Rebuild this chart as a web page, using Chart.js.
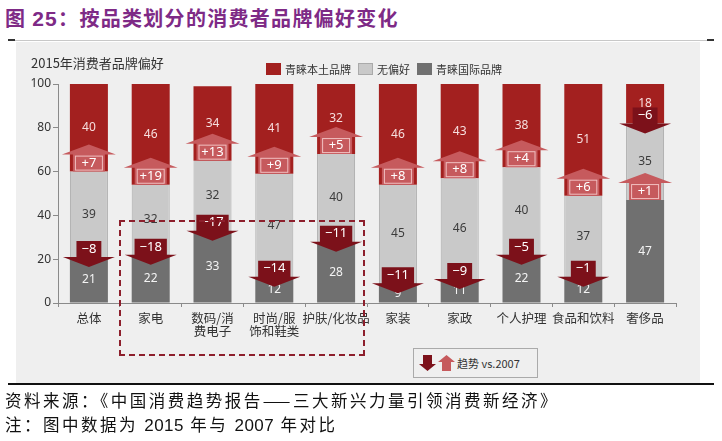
<!DOCTYPE html>
<html>
<head>
<meta charset="utf-8">
<script src="https://cdn.jsdelivr.net/npm/chart.js@4.4.0/dist/chart.umd.min.js"></script>
<style>
  body { margin: 0; background: #fff; }
  #page { position: relative; width: 722px; height: 441px; overflow: hidden; font-family: "Noto Sans CJK SC", sans-serif; }
  #panel { position: absolute; left: 16px; top: 42px; width: 684px; height: 341px; background: #efefef; }
  #myChart { position: absolute; left: 0; top: 0; }
  .abs { position: absolute; white-space: nowrap; }
  #titulo { left: 5px; top: 5px; font-size: 20px; line-height: 26px; font-weight: bold; color: #7e2a86; letter-spacing: 1.3px; }
  #titulo .num { font-family: "Liberation Sans", sans-serif; font-size: 21px; }
  #lineaTop { left: 8px; top: 40px; width: 706px; height: 1px; background: #c8c8c8; }
  .cap { top: 39px; width: 7px; height: 2px; background: #333; }
  #lineaBottom { left: 8px; top: 383px; width: 706px; height: 2px; background: #111; }
  #subtitulo { left: 31px; top: 54px; font-size: 13px; line-height: 18px; color: #333; }
  #leyenda { left: 266px; top: 62px; font-size: 11px; line-height: 14px; color: #333; display: flex; align-items: center; }
  #leyenda .sq { width: 15px; height: 12px; margin-right: 4px; }
  #leyenda .item { display: flex; align-items: center; margin-right: 7px; }
  #cajaDash { left: 119px; top: 220px; width: 246px; height: 136px; border: 2px dashed #8d1f2c; box-sizing: border-box; }
  #tendencia { left: 413px; top: 348px; width: 125px; height: 30px; border: 1px solid #aaa; box-sizing: border-box; display: flex; align-items: center; padding-left: 5px; font-size: 11px; color: #333; background: #efefef; }
  #tendencia svg { margin-right: 2px; }
  #fuente { left: 5px; top: 389px; font-size: 16.5px; line-height: 22px; color: #111; letter-spacing: 2.5px; }
  #nota { left: 5px; top: 413px; font-size: 16.5px; line-height: 22px; color: #111; letter-spacing: 2.5px; }
  #nota .num { font-family: "Liberation Sans", sans-serif; font-size: 17px; letter-spacing: 0.5px; }
</style>
</head>
<body>
<div id="page">
  <div class="abs" id="titulo">图 <span class="num">25</span>：按品类划分的消费者品牌偏好变化</div>
  <div class="abs" id="lineaTop"></div>
  <div class="abs cap" style="left:8px"></div>
  <div class="abs cap" style="left:707px"></div>
  <div id="panel"></div>
  <canvas id="myChart" width="722" height="441"></canvas>
  <div class="abs" id="subtitulo">2015年消费者品牌偏好</div>
  <div class="abs" id="leyenda">
    <div class="item"><div class="sq" style="background:#a3201f"></div>青睐本土品牌</div>
    <div class="item"><div class="sq" style="background:#c9c9c9;border:1px solid #aaa;box-sizing:border-box"></div>无偏好</div>
    <div class="item"><div class="sq" style="background:#707070"></div>青睐国际品牌</div>
  </div>
  <div class="abs" id="cajaDash"></div>
  <div class="abs" id="tendencia">
    <svg width="17" height="18" viewBox="0 0 17 18"><path d="M4 1 H13 V10 H17 L8.5 17 L0 10 H4 Z" fill="#7c111a"/></svg>
    <svg width="17" height="18" viewBox="0 0 17 18"><path d="M4 17 H13 V8 H17 L8.5 1 L0 8 H4 Z" fill="#c65a5d"/></svg>
    <span>趋势 vs.2007</span>
  </div>
  <div class="abs" id="lineaBottom"></div>
  <div class="abs" id="fuente">资料来源：《中国消费趋势报告——三大新兴力量引领消费新经济》</div>
  <div class="abs" id="nota">注：图中数据为 <span class="num">2015</span> 年与 <span class="num">2007</span> 年对比</div>
</div>

<script>
// Categorías (etiquetas de dos líneas donde hace falta)
const categorias = [['总体'], ['家电'], ['数码/消', '费电子'], ['时尚/服', '饰和鞋类'], ['护肤/化妆品'],
  ['家装'], ['家政'], ['个人护理'], ['食品和饮料'], ['奢侈品']];

// Preferencias 2015 (%)
const prefInternacional = [21, 22, 33, 12, 28, 9, 11, 22, 12, 47];
const sinPreferencia = [39, 32, 32, 47, 40, 45, 46, 40, 37, 35];
const prefLocal = [40, 46, 34, 41, 32, 46, 43, 38, 51, 18];

// Tendencia vs. 2007 (puntos)
const cambioLocal = [7, 19, 13, 9, 5, 8, 8, 4, 6, -6];
const cambioInternacional = [-8, -18, -17, -14, -11, -11, -9, -5, -1, 1];

const ticksY = [0, 20, 40, 60, 80, 100];

// Dibuja una flecha de tendencia sobre el límite entre segmentos
function dibujarFlecha(ctx, cx, by, v) {
  ctx.textAlign = 'center';
  ctx.textBaseline = 'middle';
  ctx.font = '13px "Noto Sans"';
  if (v > 0) {
    const w = 32, h = 17, hh = 10, hw = 27;
    ctx.fillStyle = '#c65a5d';
    ctx.beginPath();
    ctx.moveTo(cx - w / 2, by);
    ctx.lineTo(cx - w / 2, by - h);
    ctx.lineTo(cx - hw, by - h);
    ctx.lineTo(cx, by - h - hh);
    ctx.lineTo(cx + hw, by - h);
    ctx.lineTo(cx + w / 2, by - h);
    ctx.lineTo(cx + w / 2, by);
    ctx.closePath();
    ctx.fill();
    ctx.strokeStyle = 'rgba(255,225,225,0.75)';
    ctx.lineWidth = 1;
    ctx.strokeRect(cx - w / 2 + 2.5, by - h + 1.5, w - 5, h - 3);
    ctx.fillStyle = '#fff';
    ctx.fillText('+' + v, cx, by - h / 2);
  } else {
    const txt = '−' + Math.abs(v);
    const bw = Math.max(24, ctx.measureText(txt).width + 10);
    const h = 16, hw = 26, hh = 10;
    ctx.fillStyle = '#7c111a';
    ctx.beginPath();
    ctx.moveTo(cx - bw / 2, by - h);
    ctx.lineTo(cx + bw / 2, by - h);
    ctx.lineTo(cx + bw / 2, by);
    ctx.lineTo(cx + hw, by);
    ctx.lineTo(cx, by + hh);
    ctx.lineTo(cx - hw, by);
    ctx.lineTo(cx - bw / 2, by);
    ctx.closePath();
    ctx.fill();
    ctx.fillStyle = '#fff';
    ctx.fillText(txt, cx, by - h / 2);
  }
}

const pluginTendencias = {
  id: 'tendencias',
  afterDatasetsDraw(chart) {
    const { ctx, scales: { x, y } } = chart;
    ctx.save();
    // Valores dentro de cada segmento
    const series = [prefInternacional, sinPreferencia, prefLocal];
    const colores = ['#f4f4f4', '#3c3c3c', '#f6dede'];
    ctx.font = '12px "Noto Sans"';
    ctx.textAlign = 'center';
    ctx.textBaseline = 'middle';
    categorias.forEach((c, i) => {
      let base = 0;
      series.forEach((s, k) => {
        ctx.fillStyle = colores[k];
        ctx.fillText(String(s[i]), x.getPixelForValue(i), y.getPixelForValue(base + s[i] / 2));
        base += s[i];
      });
    });
    // Flechas
    categorias.forEach((c, i) => {
      const cx = x.getPixelForValue(i);
      dibujarFlecha(ctx, cx, y.getPixelForValue(prefInternacional[i] + sinPreferencia[i]), cambioLocal[i]);
      dibujarFlecha(ctx, cx, y.getPixelForValue(prefInternacional[i]), cambioInternacional[i]);
    });
    ctx.restore();
  }
};

const ctx = document.getElementById('myChart');
new Chart(ctx, {
  type: 'bar',
  data: {
    labels: categorias,
    datasets: [
      { label: '青睐国际品牌', data: prefInternacional, backgroundColor: '#707070', borderWidth: 0 },
      { label: '无偏好', data: sinPreferencia, backgroundColor: '#c9c9c9', borderColor: '#a9a9a9', borderWidth: { left: 1, right: 1 } },
      { label: '青睐本土品牌', data: prefLocal, backgroundColor: '#a3201f', borderWidth: 0 }
    ]
  },
  options: {
    responsive: false,
    animation: false,
    layout: { padding: { left: 0, top: 84, right: 46, bottom: 0 } },
    datasets: { bar: { categoryPercentage: 1, barPercentage: 0.615 } },
    plugins: { legend: { display: false }, tooltip: { enabled: false } },
    scales: {
      x: {
        stacked: true,
        grid: { drawOnChartArea: false, drawTicks: true, tickLength: 4, color: '#8a8a8a' },
        border: { display: true, color: '#8a8a8a' },
        ticks: { color: '#333', font: { family: '"Noto Sans CJK SC"', size: 12.5, lineHeight: 1.05 }, padding: 5, maxRotation: 0, autoSkip: false },
        afterFit(scale) { scale.height = 138; }
      },
      y: {
        stacked: true,
        min: 0,
        max: 100,
        afterBuildTicks(scale) { scale.ticks = ticksY.map(v => ({ value: v })); },
        grid: { drawOnChartArea: false, drawTicks: true, tickLength: 5, color: '#8a8a8a' },
        border: { display: true, color: '#8a8a8a' },
        ticks: { color: '#333', font: { family: '"Noto Sans"', size: 12 }, padding: 2 },
        afterFit(scale) { scale.width = 58; }
      }
    }
  },
  plugins: [pluginTendencias]
});
</script>
</body>
</html>
